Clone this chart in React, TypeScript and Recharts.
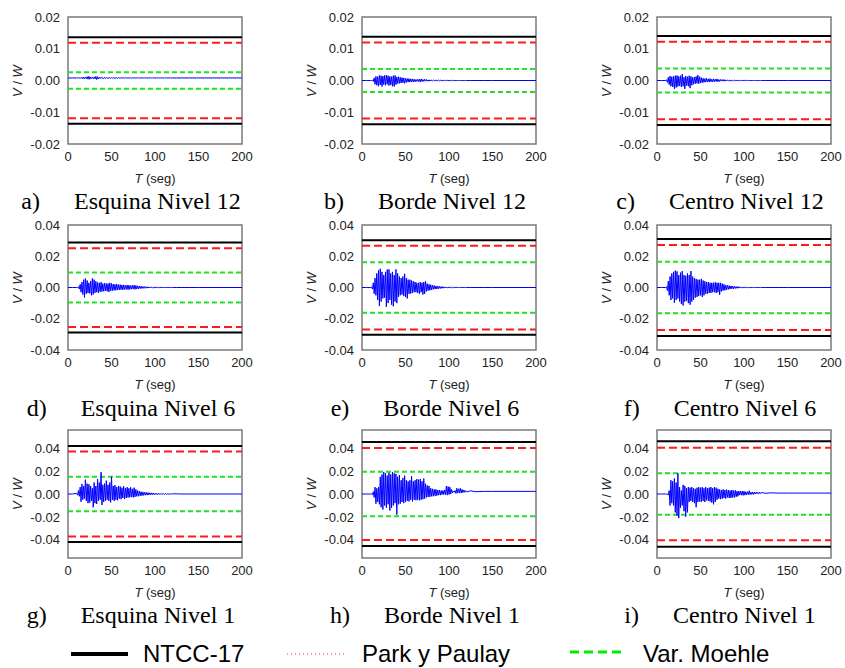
import React from 'react';
import { LineChart, Line, XAxis, YAxis, ReferenceLine, ReferenceArea } from 'recharts';

// tiempo (seg): 0, 5, luego 10..120 cada 1 s, y cola 125, 130, 140, 150, 200
const tiempo = [0, 5, ...Array.from({ length: 111 }, (_, i) => 10 + i), 125, 130, 140, 150, 200];

// cortante normalizado V/W, en unidades de 1e-3
const esquina12 = [
  0.8, 0.8,
  0.8, 0.8, 0.9, 0.7, 0.9, 0.6, 1.0, 0.6, 1.1, 0.5,
  1.0, 0.6, 1.2, 0.4, 1.3, 0.4, 1.1, 0.6, 1.0, 0.6,
  1.1, 0.5, 1.3, 0.3, 1.2, 0.5, 1.0, 0.6, 1.0, 0.7,
  0.9, 0.6, 1.0, 0.7, 0.9, 0.7, 0.9, 0.7, 0.9, 0.7,
  0.9, 0.7, 0.9, 0.7, 0.9, 0.7, 0.9, 0.7, 0.9, 0.75,
  0.85, 0.7, 0.9, 0.75, 0.85, 0.75, 0.85, 0.75, 0.85, 0.75,
  0.85, 0.75, 0.85, 0.75, 0.85, 0.8, 0.8, 0.8, 0.8, 0.8,
  0.8, 0.8, 0.8, 0.8, 0.8, 0.8, 0.8, 0.8, 0.8, 0.8,
  0.8, 0.8, 0.8, 0.8, 0.8, 0.8, 0.8, 0.8, 0.8, 0.8,
  0.8, 0.8, 0.8, 0.8, 0.8, 0.8, 0.8, 0.8, 0.8, 0.8,
  0.8, 0.8, 0.8, 0.8, 0.8, 0.8, 0.8, 0.8, 0.8, 0.8,
  0.8, 0.8, 0.8, 0.8, 0.8, 0.8,
];
const borde12 = [
  0, 0,
  0, 0, 0.1, -0.3, 0.8, -1.2, 1.3, -1.5, 1.2, -1.8,
  1.6, -1.4, 1.5, -1.9, 1.4, -1.3, 1.6, -1.5, 1.7, -1.2,
  1.5, -1.6, 1.3, -1.4, 1.2, -1.8, 1.5, -1.9, 1.6, -1.3,
  1.1, -1.0, 1.2, -0.9, 1.0, -0.8, 0.9, -0.7, 0.8, -0.9,
  0.7, -0.6, 0.6, -0.5, 0.6, -0.5, 0.5, -0.4, 0.5, -0.5,
  0.4, -0.4, 0.3, -0.3, 0.4, -0.3, 0.4, -0.5, 0.5, -0.3,
  0.3, -0.3, 0.4, -0.2, 0.3, -0.2, 0.2, -0.2, 0.2, -0.15,
  0.15, -0.1, 0.15, -0.1, 0.1, -0.1, 0.1, -0.1, 0.1, -0.1,
  0.1, -0.08, 0.08, -0.05, 0.05, -0.05, 0.05, -0.05, 0.05, -0.05,
  0.05, -0.05, 0.05, -0.03, 0.03, -0.03, 0.03, -0.02, 0.02, -0.02,
  0.02, -0.02, 0, 0, 0, 0, 0, 0, 0, 0,
  0, 0, 0, 0, 0, 0,
];
const centro12 = [
  0, 0,
  0, 0.2, -0.6, 1.0, -1.3, 1.4, -1.8, 1.2, -2.0, 1.3,
  -2.6, 1.5, -2.2, 1.6, -1.9, 1.3, -1.7, 1.5, -2.0, 2.0,
  -1.8, 1.0, -2.6, 1.4, -1.6, 1.2, -1.8, 1.5, -2.4, 1.3,
  -1.5, 1.0, -1.2, 1.1, -1.0, 1.3, -0.9, 1.7, -1.0, 1.2,
  -0.8, 0.9, -0.7, 0.7, -0.6, 0.6, -0.5, 0.7, -0.5, 0.5,
  -0.5, 0.6, -0.4, 0.4, -0.4, 0.5, -0.4, 0.4, -0.3, 0.5,
  -0.4, 0.3, -0.3, 0.3, -0.2, 0.3, -0.2, 0.3, -0.2, 0.2,
  -0.15, 0.15, -0.1, 0.1, -0.1, 0.1, -0.1, 0.08, -0.08, 0.1,
  -0.05, 0.05, -0.05, 0.05, -0.05, 0.05, -0.05, 0.03, -0.03, 0,
  0, 0.05, -0.05, 0.03, -0.03, 0.02, 0, 0, 0, 0,
  0, 0, 0, 0, 0, 0, 0, 0, 0, 0,
  0, 0, 0, 0, 0, 0,
];
const esquina6 = [
  0, 0,
  0, 0, 0.5, -1.0, 2.0, -3.0, 3.5, -4.5, 5.0, -6.4,
  5.8, -4.0, 4.5, -3.5, 3.0, -3.8, 4.2, -5.0, 5.8, -4.5,
  5.0, -3.5, 4.0, -3.0, 3.2, -3.5, 3.0, -2.8, 3.4, -2.6,
  2.5, -2.4, 2.8, -2.2, 2.6, -2.4, 2.5, -2.8, 3.0, -2.2,
  2.6, -2.0, 2.2, -1.8, 2.0, -1.8, 2.2, -1.6, 1.8, -1.5,
  1.8, -1.4, 1.6, -1.5, 1.7, -1.3, 1.5, -1.2, 1.6, -1.4,
  1.5, -1.2, 1.3, -1.1, 1.4, -1.0, 1.5, -1.2, 1.3, -1.0,
  1.1, -0.8, 0.9, -0.7, 0.8, -0.6, 0.7, -0.5, 0.6, -0.5,
  0.5, -0.4, 0.4, -0.3, 0.3, -0.3, 0.3, -0.2, 0.2, -0.2,
  0.2, -0.15, 0.15, -0.1, 0.1, -0.1, 0.1, -0.05, 0.05, -0.05,
  0.05, 0, 0, 0, 0, 0, 0, 0, 0, 0,
  0, 0, 0, 0, 0, 0,
];
const borde6 = [
  0, 0,
  0, 0.3, -1.0, 3.0, -4.0, 6.0, -5.0, 9.0, -8.0, 11.0,
  -11.8, 12.0, -9.0, 10.0, -7.0, 8.0, -6.5, 10.0, -12.4, 11.5,
  -10.0, 11.6, -8.0, 9.0, -11.0, 10.0, -12.0, 8.0, -9.0, 11.6,
  -10.0, 9.0, -6.0, 7.0, -5.0, 6.0, -4.5, 7.0, -5.5, 8.8,
  -6.0, 6.0, -7.0, 5.0, -4.0, 5.0, -4.0, 4.5, -3.5, 4.0,
  -3.0, 3.5, -3.0, 3.0, -3.5, 3.0, -4.0, 3.5, -3.0, 3.0,
  -4.5, 3.5, -4.0, 4.0, -2.5, 2.5, -2.0, 2.0, -1.8, 1.8,
  -1.5, 1.5, -1.2, 1.2, -1.0, 1.0, -1.0, 0.8, -0.8, 0.8,
  -0.6, 0.6, -0.5, 0.5, -0.4, 0.4, -0.3, 0.3, -0.3, 0.2,
  -0.2, 0.2, -0.2, 0.15, -0.15, 0.15, -0.1, 0.1, -0.1, 0.1,
  -0.05, 0.05, -0.05, 0.05, 0, 0, 0, 0, 0, 0,
  0, 0, 0, 0, 0, 0,
];
const centro6 = [
  0, 0,
  0, 0.5, -2.0, 4.0, -5.0, 7.0, -8.0, 9.0, -7.0, 10.0,
  -9.8, 10.8, -8.0, 10.3, -7.0, 8.0, -9.0, 9.5, -10.5, 10.5,
  -11.5, 8.0, -9.0, 7.5, -8.5, 9.0, -10.0, 8.0, -11.0, 10.5,
  -9.0, 7.0, -8.0, 6.0, -6.5, 5.5, -6.0, 5.0, -5.5, 5.0,
  -5.0, 5.5, -6.0, 4.5, -5.0, 4.0, -4.0, 3.5, -4.0, 3.5,
  -3.5, 3.0, -3.5, 3.0, -3.0, 3.0, -3.0, 3.4, -3.5, 3.0,
  -3.0, 3.0, -4.7, 3.0, -2.5, 2.5, -2.0, 2.0, -1.8, 1.5,
  -1.5, 1.5, -1.2, 1.2, -1.0, 1.0, -0.8, 0.9, -0.8, 0.8,
  -0.6, 0.6, -0.5, 0.6, -0.4, 0.4, -0.3, 0.3, -0.3, 0.2,
  -0.2, 0.2, -0.15, 0.1, -0.1, 0.1, -0.1, 0.05, -0.05, 0.05,
  -0.05, 0.05, 0, 0, 0, 0, 0, 0, 0, 0,
  0, 0, 0, 0, 0, 0,
];
const esquina1 = [
  0, 0,
  0.5, -1.0, 3.0, -2.0, 6.0, -6.7, 8.7, -5.0, 7.0, -4.0,
  12.5, -6.0, 9.0, -8.0, 8.5, -7.5, 7.0, -6.0, 5.0, -11.6,
  10.0, -8.0, 7.0, -8.7, 13.0, -6.0, 10.0, -5.0, 19.0, -9.6,
  8.0, -7.0, 9.0, -6.0, 11.6, -5.0, 8.0, -6.0, 10.0, -7.3,
  15.0, -5.0, 7.0, -6.0, 7.8, -5.0, 6.0, -5.5, 7.0, -4.0,
  6.5, -4.5, 5.5, -3.5, 6.7, -4.4, 5.0, -3.5, 6.0, -3.0,
  5.0, -3.0, 5.8, -2.5, 4.5, -3.0, 5.5, -2.5, 4.0, -2.0,
  3.0, -2.0, 2.5, -1.5, 2.0, -1.5, 1.8, -1.2, 1.5, -1.0,
  1.5, -1.0, 1.2, -0.8, 1.0, -0.8, 1.0, -0.6, 0.8, -0.5,
  0.6, -0.5, 0.6, -0.5, 0.5, -0.4, 0.5, -0.4, 0.4, -0.3,
  0.4, -0.3, 0.3, -0.3, 0.3, -0.2, 0.2, -0.2, 0.2, -0.1,
  0.2, 0.1, 0, 0, 0, 0,
];
const borde1 = [
  0, 0,
  0, 0, -0.5, 2.0, -3.0, 6.0, -8.5, 5.0, -7.0, 6.0,
  -9.0, 15.0, -11.5, 17.0, -13.5, 19.0, -10.0, 18.0, -12.0, 16.0,
  -9.0, 18.5, -14.4, 17.0, -12.0, 19.0, -10.0, 18.0, -8.0, 17.5,
  -18.0, 15.0, -9.0, 16.5, -8.5, 12.0, -7.0, 14.0, -8.0, 16.0,
  -7.0, 12.0, -6.0, 11.0, -6.5, 12.0, -5.0, 15.5, -6.5, 11.0,
  -5.0, 12.0, -5.5, 13.0, -5.0, 12.5, -5.5, 13.0, -5.0, 11.0,
  -4.5, 13.5, -4.0, 9.0, -3.0, 7.5, -2.6, 7.0, -2.5, 5.0,
  -2.0, 4.5, -2.0, 4.0, -1.5, 4.0, -1.5, 3.5, -1.0, 3.5,
  -1.0, 3.0, -0.5, 3.0, -0.5, 3.5, -0.5, 7.0, -1.0, 6.5,
  -0.5, 6.0, 0.0, 4.0, 1.0, 2.5, 1.5, 3.0, 0.5, 5.0,
  0.8, 4.5, 1.0, 5.0, 0.8, 4.0, 1.2, 3.5, 1.5, 3.0,
  1.8, 2.8, 2.0, 2.3, 2.3, 2.3,
];
const centro1 = [
  0, 0,
  0, 0, 0, -1.0, 3.0, -10.0, 12.0, -8.0, 11.0, -10.0,
  13.5, -16.0, 10.0, -18.8, 18.0, -21.0, 6.0, -12.0, 3.0, -10.0,
  8.0, -15.0, 7.0, -19.7, 5.0, -16.0, 6.0, -7.0, 5.5, -6.0,
  6.0, -7.0, 5.0, -8.0, 4.5, -11.5, 5.5, -7.0, 6.0, -6.5,
  5.5, -7.0, 6.0, -6.0, 5.0, -7.0, 6.0, -5.5, 5.0, -6.0,
  5.5, -6.5, 6.0, -7.5, 5.0, -9.0, 6.0, -7.0, 5.5, -5.0,
  4.5, -4.0, 4.0, -4.5, 3.5, -4.0, 4.0, -3.5, 3.5, -4.0,
  3.8, -3.0, 3.5, -3.5, 3.0, -3.5, 3.5, -3.0, 3.0, -3.0,
  3.2, -2.5, 2.5, -2.0, 2.6, -1.0, 2.6, -1.0, 2.5, -1.2,
  2.4, -1.0, 2.0, -0.8, 2.0, -0.5, 2.8, -0.5, 1.5, -0.3,
  1.8, -0.3, 1.5, 0.0, 1.6, 0.2, 1.4, 0.2, 1.5, 0.3,
  1.3, 0.6, 1.0, 0.8, 0.8, 0.8,
];

// límites (V/W), en el orden a) ... i)
const ntcc17 = [0.0136, 0.0138, 0.014, 0.0288, 0.0303, 0.0311, 0.0419, 0.0453, 0.046];
const parkPaulay = [0.0119, 0.012, 0.0122, 0.0252, 0.0268, 0.0272, 0.0371, 0.04, 0.0403];
const varMoehle = [0.0026, 0.0036, 0.0038, 0.0096, 0.0161, 0.0165, 0.015, 0.0193, 0.0182];

const letras = ['a)', 'b)', 'c)', 'd)', 'e)', 'f)', 'g)', 'h)', 'i)'];
const titulos = [
  'Esquina Nivel 12', 'Borde Nivel 12', 'Centro Nivel 12',
  'Esquina Nivel 6', 'Borde Nivel 6', 'Centro Nivel 6',
  'Esquina Nivel 1', 'Borde Nivel 1', 'Centro Nivel 1',
];
const series = [esquina12, borde12, centro12, esquina6, borde6, centro6, esquina1, borde1, centro1];

const ticksX = [0, 50, 100, 150, 200];
const ticksY = [
  [-0.02, -0.01, 0, 0.01, 0.02],
  [-0.04, -0.02, 0, 0.02, 0.04],
  [-0.04, -0.02, 0, 0.02, 0.04],
];
const limiteY = [0.02, 0.04, 0.0558];

// geometría
const colLeft = [68, 362, 657];
const rowTop = [17, 225, 430];
const plotH = [127, 125, 128];
const plotW = 174;
const captionTop = [189, 396, 603];
const AX = 68;
const RM = 20;
const FRAME = '#7a7a7a';
const sans = "'Liberation Sans', Arial, sans-serif";
const serif = "'Liberation Serif', 'Times New Roman', serif";

const Panel = ({ idx }: { idx: number }) => {
  const row = Math.floor(idx / 3);
  const col = idx % 3;
  const left = colLeft[col];
  const top = rowTop[row];
  const h = plotH[row];
  const lim = limiteY[row];
  const vals = series[idx];
  const data = tiempo.map((t, i) => ({ t, v: vals[i] / 1000 }));
  const cx = left + plotW / 2;

  return (
    <>
      <div style={{ position: 'absolute', left: left - AX, top: top - 6 }}>
        <LineChart
          width={AX + plotW + RM}
          height={6 + h + 30}
          data={data}
          margin={{ top: 6, right: RM, left: 0, bottom: 0 }}
        >
          <XAxis
            dataKey="t"
            type="number"
            domain={[0, 200]}
            ticks={ticksX}
            interval={0}
            height={30}
            tickLine={false}
            axisLine={false}
            tick={{ fill: '#222', fontSize: 13 }}
          />
          <YAxis
            type="number"
            domain={[-lim, lim]}
            ticks={ticksY[row]}
            interval={0}
            width={AX}
            allowDataOverflow
            tickLine={false}
            axisLine={false}
            tick={{ fill: '#222', fontSize: 13 }}
            tickFormatter={(v: number) => v.toFixed(2)}
          />
          <ReferenceLine y={ntcc17[idx]} stroke="#000" strokeWidth={2} />
          <ReferenceLine y={-ntcc17[idx]} stroke="#000" strokeWidth={2} />
          <ReferenceLine y={parkPaulay[idx]} stroke="#ff1a1a" strokeWidth={2} strokeDasharray="8 4" />
          <ReferenceLine y={-parkPaulay[idx]} stroke="#ff1a1a" strokeWidth={2} strokeDasharray="8 4" />
          <ReferenceLine y={varMoehle[idx]} stroke="#22e022" strokeWidth={2} strokeDasharray="5 3" />
          <ReferenceLine y={-varMoehle[idx]} stroke="#22e022" strokeWidth={2} strokeDasharray="5 3" />
          <Line dataKey="v" type="linear" stroke="#0000ff" strokeWidth={1} dot={false} isAnimationActive={false} />
          {/* marco del área de trazado */}
          <ReferenceArea
            x1={0}
            x2={200}
            y1={-lim}
            y2={lim}
            fill="none"
            fillOpacity={0}
            stroke={FRAME}
            strokeWidth={1.5}
            strokeOpacity={1}
            ifOverflow="visible"
          />
        </LineChart>
      </div>
      <div
        style={{
          position: 'absolute', left: left - 51, top: top + h / 2,
          transform: 'translate(-50%, -50%) rotate(-90deg)',
          fontSize: 13, color: '#222', whiteSpace: 'nowrap', fontFamily: sans,
        }}
      >
        <i>V</i> / <i>W</i>
      </div>
      <div
        style={{
          position: 'absolute', left: cx, top: top + h + 34,
          transform: 'translate(-50%, -50%)',
          fontSize: 13, color: '#222', whiteSpace: 'nowrap', fontFamily: sans,
        }}
      >
        <i>T</i> (seg)
      </div>
      <div
        style={{
          position: 'absolute', left: cx - 24 - 150, width: 300, top: captionTop[row],
          textAlign: 'center', fontSize: 24, lineHeight: '24px', fontFamily: serif, color: '#000', whiteSpace: 'nowrap',
        }}
      >
        <span>{letras[idx]}</span>
        <span style={{ marginLeft: 34 }}>{titulos[idx]}</span>
      </div>
    </>
  );
};

const Leyenda = () => (
  <svg width={845} height={40} style={{ position: 'absolute', left: 0, top: 628 }}>
    <line x1={71} x2={128} y1={26} y2={26} stroke="#000" strokeWidth={4} />
    <text x={143} y={34} fontSize={24} fontFamily={sans} fill="#000">NTCC-17</text>
    <line x1={287} x2={347} y1={26} y2={26} stroke="#ff3030" strokeWidth={1} strokeDasharray="1 3" />
    <text x={362} y={34} fontSize={24} fontFamily={sans} fill="#000">Park y Paulay</text>
    <line x1={570} x2={622} y1={24} y2={24} stroke="#00ee00" strokeWidth={3} strokeDasharray="9 5" />
    <text x={643} y={34} fontSize={24} fontFamily={sans} fill="#000">Var. Moehle</text>
  </svg>
);

export default function App() {
  return (
    <div style={{ position: 'absolute', left: 0, top: 0, width: 845, height: 668, background: '#fff', fontFamily: sans }}>
      {series.map((_, i) => (
        <Panel key={i} idx={i} />
      ))}
      <Leyenda />
    </div>
  );
}
